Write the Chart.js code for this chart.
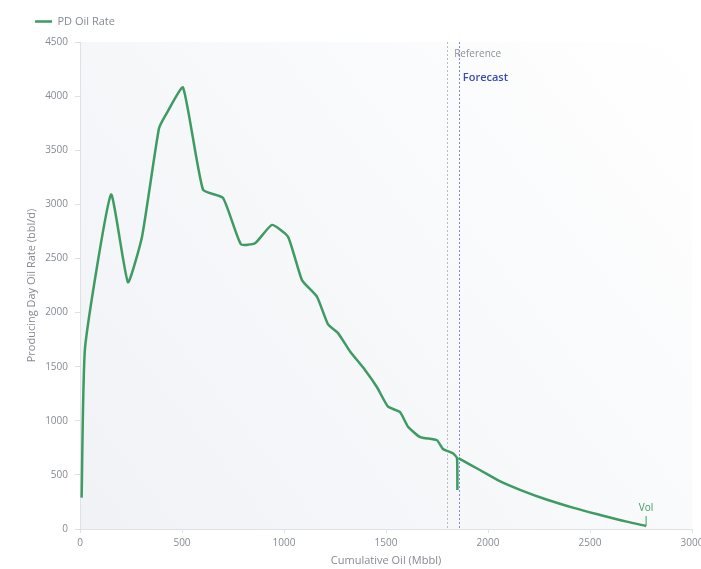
<!DOCTYPE html>
<html lang="en">
<head>
<meta charset="UTF-8" />
<title>PD Oil Rate</title>
<script src="https://cdn.jsdelivr.net/npm/chart.js"></script>
<style>
    html, body { margin: 0; padding: 0; background: #fff; }
    #wrap { width: 701px; height: 569px; }
</style>
</head>
<body>
<div id="wrap"><canvas id="rateChart"></canvas></div>
<script>
    // history: cumulative oil (Mbbl) and producing day oil rate (bbl/d)
    const histCum = [8, 25, 152, 235, 304, 387, 426, 505, 603, 701, 789, 858, 941, 1020, 1088, 1162, 1216, 1265, 1324, 1397, 1456, 1510, 1569, 1608, 1667, 1750, 1779, 1828, 1848, 1850];
    const histRate = [290, 1680, 3090, 2280, 2700, 3700, 3845, 4080, 3135, 3060, 2630, 2640, 2810, 2700, 2300, 2145, 1890, 1810, 1640, 1470, 1310, 1130, 1080, 945, 850, 820, 740, 700, 656, 360];

    // forecast
    const fcCum = [1855, 1960, 2060, 2160, 2290, 2420, 2550, 2680, 2775];
    const fcRate = [655, 545, 440, 360, 270, 195, 130, 68, 28];

    const referenceCum = 1800;
    const forecastCum = 1857;
    const endLabel = 'Vol';

    const green = '#3e9b62';
    const tickColor = '#858a93';
    const fontFamily = '"Open Sans", "Noto Sans", sans-serif';

    const toPoints = (xs, ys) => xs.map((x, i) => ({ x: x, y: ys[i] }));

    // light gradient behind the plot area
    const plotBackground = {
        id: 'plotBackground',
        beforeLayout(chart) {
            // leave a little more room under the legend
            const lg = chart.legend;
            if (lg && !lg._patched) {
                const fit = lg.fit;
                lg.fit = function () { fit.call(this); this.height += 5; };
                lg._patched = true;
            }
        },
        beforeDraw(chart) {
            const { ctx, chartArea: a } = chart;
            const g = ctx.createLinearGradient(a.right, a.top, a.left, a.bottom);
            g.addColorStop(0, '#ffffff');
            g.addColorStop(1, '#f0f2f6');
            ctx.save();
            ctx.fillStyle = g;
            ctx.fillRect(a.left, a.top, a.width, a.height);
            ctx.restore();
        }
    };

    // reference / forecast markers and end label
    const markers = {
        id: 'markers',
        beforeDatasetsDraw(chart) {
            const { ctx, chartArea: a, scales: { x } } = chart;
            const lines = [
                { v: referenceCum, color: '#b9bcc4' },
                { v: forecastCum, color: '#7d88e2' }
            ];
            ctx.save();
            ctx.lineWidth = 1;
            ctx.setLineDash([2, 2]);
            lines.forEach(l => {
                const px = Math.round(x.getPixelForValue(l.v)) + 0.5;
                ctx.strokeStyle = l.color;
                ctx.beginPath();
                ctx.moveTo(px, a.top);
                ctx.lineTo(px, a.bottom);
                ctx.stroke();
            });
            ctx.restore();
        },
        afterDatasetsDraw(chart) {
            const { ctx, chartArea: a, scales: { x, y } } = chart;
            ctx.save();
            ctx.textBaseline = 'middle';
            ctx.textAlign = 'left';
            ctx.font = '10px ' + fontFamily;
            ctx.fillStyle = '#8c9098';
            ctx.fillText('Reference', x.getPixelForValue(referenceCum) + 7, a.top + 12);
            ctx.font = '600 11px ' + fontFamily;
            ctx.fillStyle = '#3b4bb3';
            ctx.fillText('Forecast', x.getPixelForValue(forecastCum) + 4, a.top + 36);

            // end-of-forecast tag
            const last = fcCum.length - 1;
            const ex = x.getPixelForValue(fcCum[last]);
            const ey = y.getPixelForValue(fcRate[last]);
            ctx.strokeStyle = green;
            ctx.lineWidth = 1;
            ctx.beginPath();
            ctx.moveTo(ex, ey);
            ctx.lineTo(ex, ey - 10);
            ctx.stroke();
            ctx.font = '10px ' + fontFamily;
            ctx.fillStyle = green;
            ctx.textAlign = 'center';
            ctx.fillText(endLabel, ex, ey - 18);
            ctx.restore();
        }
    };

    const plainNumber = v => String(v);

    const ctx = document.getElementById('rateChart').getContext('2d');
    new Chart(ctx, {
        type: 'line',
        data: {
            datasets: [{
                label: 'PD Oil Rate',
                data: toPoints(histCum, histRate),
                borderColor: green,
                backgroundColor: green,
                borderWidth: 2.5,
                pointRadius: 0,
                tension: 0.15
            }, {
                label: 'Forecast',
                data: toPoints(fcCum, fcRate),
                borderColor: green,
                backgroundColor: green,
                borderWidth: 2.5,
                pointRadius: 0,
                tension: 0.3
            }]
        },
        options: {
            responsive: true,
            maintainAspectRatio: false,
            animation: false,
            layout: { padding: { left: 25, top: 6, right: 0, bottom: 0 } },
            plugins: {
                legend: {
                    position: 'top',
                    align: 'start',
                    labels: {
                        filter: item => item.datasetIndex === 0,
                        boxWidth: 17,
                        boxHeight: 0,
                        color: tickColor,
                        font: { family: fontFamily, size: 11 }
                    }
                },
                tooltip: { enabled: false }
            },
            scales: {
                x: {
                    type: 'linear',
                    min: 0,
                    max: 3000,
                    ticks: { stepSize: 500, color: tickColor, padding: 4, callback: plainNumber, font: { family: fontFamily, size: 10 } },
                    grid: { drawOnChartArea: false, tickLength: 4, color: '#dfe1e5' },
                    border: { color: '#dfe1e5' },
                    title: {
                        display: true,
                        text: 'Cumulative Oil (Mbbl)',
                        color: tickColor,
                        font: { family: fontFamily, size: 11 },
                        padding: { top: 0, bottom: 2 }
                    },
                    afterFit(scale) {
                        scale.height = 40;
                        scale.paddingRight = 9;
                    }
                },
                y: {
                    min: 0,
                    max: 4500,
                    ticks: { stepSize: 500, color: tickColor, padding: 7, callback: plainNumber, font: { family: fontFamily, size: 10 } },
                    grid: { drawOnChartArea: false, tickLength: 5, color: '#dfe1e5' },
                    border: { color: '#dfe1e5' },
                    title: {
                        display: true,
                        text: 'Producing Day Oil Rate (bbl/d)',
                        color: tickColor,
                        font: { family: fontFamily, size: 11 },
                        padding: { top: 0, bottom: 0 }
                    },
                    afterFit(scale) { scale.width = 55; }
                }
            }
        },
        plugins: [plotBackground, markers]
    });
</script>
</body>
</html>
